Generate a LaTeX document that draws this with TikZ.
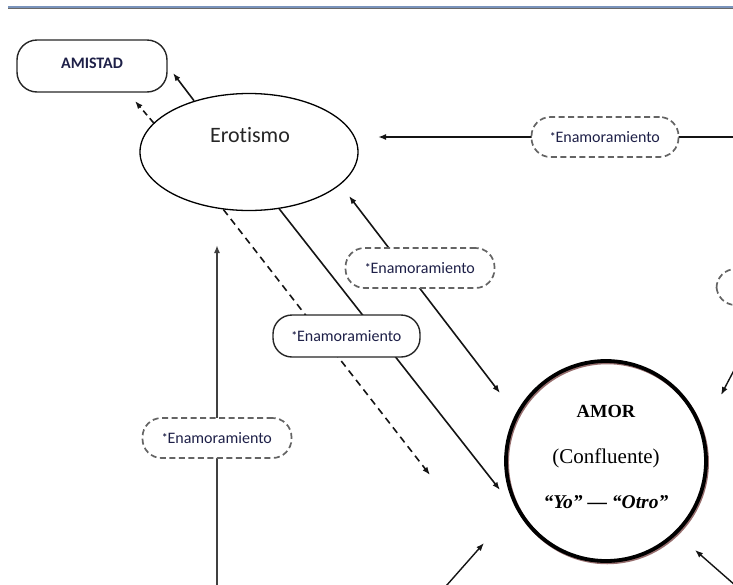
\documentclass[tikz,border=0pt]{standalone}
\usepackage{fontspec}
\setmainfont{Carlito}[Ligatures=NoCommon]
\newfontfamily\amorfont{Liberation Serif}
\usetikzlibrary{shapes.geometric,arrows.meta,calc,backgrounds}
\definecolor{rulebl}{RGB}{122,148,188}
\definecolor{rulegr}{RGB}{105,105,105}
\definecolor{txt}{RGB}{30,32,72}
\definecolor{dashgr}{RGB}{100,100,100}
\definecolor{shadebr}{RGB}{150,110,110}
\newcommand\enamtxt{\raisebox{2pt}{\fontsize{11}{11}\selectfont\bfseries *}Enamoramiento}
\begin{document}
\begin{tikzpicture}[x=1pt,y=-1pt,
  arr/.style={-{Latex[length=8pt,width=6pt]}, line width=1.6pt, draw=black!92},
  biarr/.style={{Latex[length=8pt,width=6pt]}-{Latex[length=8pt,width=6pt]}, line width=1.6pt, draw=black!92},
  enam/.style={rounded corners=19pt, minimum width=147pt, minimum height=40pt,
    inner sep=0pt, fill=white, font=\fontsize{16}{18}\selectfont, text=txt},
  dbox/.style={enam, draw=dashgr, dash pattern=on 6pt off 3.5pt, line width=1.7pt},
  sbox/.style={enam, draw=black!85, line width=1.4pt},
]
\useasboundingbox (0,0) rectangle (733,584);
\clip (0,0) rectangle (733,584);

% header rule
\draw[rulebl, line width=2pt] (8,7) -- (733,7);
\draw[rulegr, line width=1pt] (8,8.8) -- (733,8.8);

% main shapes
\node[draw=black!85, line width=1.4pt, rounded corners=20pt, minimum width=150pt,
  minimum height=52pt, inner sep=0pt] (amistad) at (92,66) {};
\node[anchor=base, font=\bfseries\fontsize{16}{18}\selectfont, text=txt] (amistadlbl) at (92,68) {AMISTAD};

\node[ellipse, draw=black, line width=1.3pt, minimum width=218pt, minimum height=117pt,
  inner sep=0pt, fill=white] (ero) at (249,152) {};
\node[anchor=base, font=\fontsize{22}{24}\selectfont, text=black!85] (erolbl) at (250,142) {Erotismo};

\draw[shadebr, line width=3.5pt] (607.2,462.5) circle (100pt);
\node[circle, draw=black, line width=3.8pt, minimum size=200pt, inner sep=0pt] (amor) at (606,461) {};
\node[anchor=base, font=\amorfont\bfseries\fontsize{18.5}{20}\selectfont] (amor1) at (606,417) {AMOR};
\node[anchor=base, font=\amorfont\fontsize{21}{23}\selectfont] (amor2) at (606,463) {(Confluente)};
\node[anchor=base, font=\amorfont\bfseries\itshape\fontsize{19.5}{21}\selectfont] (amor3) at (606,508) {“Yo” — “Otro”};

% labelled boxes on the links
\node[dbox] (enA) at (605,137) {\enamtxt};
\node[dbox, minimum width=149pt] (enB) at (420,268) {\enamtxt};
\node[sbox, minimum height=42pt] (enC) at (346.5,336) {\enamtxt};
\node[dbox, minimum width=149pt] (enD) at (217,438) {\enamtxt};
\node[dbox, minimum height=36pt] (enE) at (790,287) {};

% end points of the free links
\coordinate (pAmiS) at (173,73);
\coordinate (pAmiD) at (135,101);
\coordinate (pEroH) at (378,137);
\coordinate (pRight) at (745,137);
\coordinate (pEroB) at (349,196);
\coordinate (pAmorB) at (500,393);
\coordinate (pAmorC) at (500,490);
\coordinate (pDash) at (430,475);
\coordinate (pEroV) at (217,245);
\coordinate (pBotV) at (217,595);
\coordinate (pBotL0) at (439,594);
\coordinate (pBotL1) at (484,543);
\coordinate (pBotR0) at (752,600);
\coordinate (pBotR1) at (695,550);
\coordinate (pTopR0) at (742,355);
\coordinate (pTopR1) at (721,395);

\begin{scope}[on background layer]
  \draw[arr] (ero.137) -- (pAmiS);
  \draw[arr, dash pattern=on 6pt off 4pt] (ero.163) -- (pAmiD);
  \draw[arr] (pRight) -- (pEroH);
  \draw[biarr] (pEroB) -- (pAmorB);
  \draw[arr] (ero.-62) -- (pAmorC);
  \draw[arr, dash pattern=on 7pt off 5pt] (ero.-114) -- (pDash);
  \draw[arr, draw=black!75] (pBotV) -- (pEroV);
\end{scope}

\draw[arr, line width=1.4pt] (pBotL0) -- (pBotL1);
\draw[arr, line width=1.4pt] (pBotR0) -- (pBotR1);
\draw[arr, line width=1.4pt] (pTopR0) -- (pTopR1);
\end{tikzpicture}
\end{document}
